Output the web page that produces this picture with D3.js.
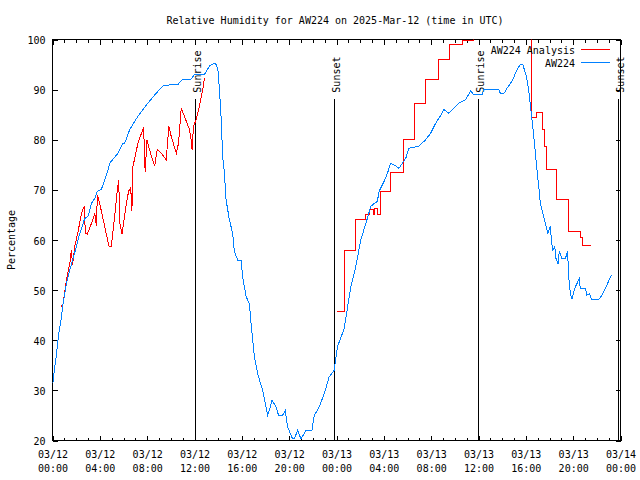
<!DOCTYPE html>
<html><head><meta charset="utf-8">
<script src="https://cdn.jsdelivr.net/npm/d3@7"></script>
<style>
html,body{margin:0;padding:0;background:#fff;}
svg{display:block;}
text{font-family:"DejaVu Sans Mono","Liberation Mono",monospace;font-size:10px;fill:#000;}
</style></head>
<body>
<svg id="chart" width="640" height="480"></svg>
<script>
// ---- data ----
const startTime = "2025-03-12T00:00:00Z";
const endTime = "2025-03-14T00:00:00Z";
const titleText = "Relative Humidity for AW224 on 2025-Mar-12 (time in UTC)";
const yLabelText = "Percentage";
const seriesNames = ["AW224 Analysis", "AW224"];
const seriesColors = ["#ff0000", "#0080ff"];
const yTicks = [20, 30, 40, 50, 60, 70, 80, 90, 100];

// AW224 observations (hours since 03/12 00:00 UTC)
const blueHours = [0.0,0.05,0.19,0.34,0.53,0.76,0.89,1.18,1.46,1.74,
 2.02,2.30,2.45,2.72,3.00,3.29,3.57,3.79,4.13,4.41,
 4.69,4.83,5.53,5.95,6.10,6.52,7.22,8.06,8.77,9.33,
 10.03,10.59,11.01,11.72,12.00,12.84,13.26,13.68,13.85,13.98,
 14.11,14.25,14.38,14.53,14.67,14.95,15.23,15.37,15.65,15.94,
 16.07,16.36,16.64,16.78,17.06,17.34,17.76,18.18,18.32,18.55,
 18.89,19.11,19.44,19.67,19.87,20.29,20.43,20.71,21.0,21.42,
 21.92,22.12,22.54,22.96,23.38,23.80,24.08,24.65,25.21,25.63,
 26.05,26.48,26.90,27.18,27.45,27.60,28.02,28.30,28.58,28.86,
 29.28,29.56,29.85,30.13,30.97,31.53,31.96,32.38,32.66,33.08,
 33.50,33.78,34.34,34.91,35.33,35.61,36.31,36.45,37.72,37.86,
 38.14,38.42,38.84,39.26,39.54,39.74,39.97,40.10,40.24,40.39,
 40.52,40.67,40.81,40.94,41.09,41.23,41.43,41.65,41.87,42.07,
 42.16,42.27,42.44,42.55,42.72,42.83,43.05,43.34,43.53,43.62,
 43.76,43.90,44.12,44.32,44.52,44.60,45.03,45.16,45.36,45.58,
 46.15,46.43,46.85,47.22];
const blueValues = [31.4,31.7,34.7,37.3,41.3,44.7,47.3,51.3,54,56.3,
 58.7,61.3,62.3,64.3,64.7,67.3,68.3,69.7,70.1,72,
 74,75.3,77.3,79.3,79.3,82,84.7,87.3,89.3,90.7,
 91,91,92.1,92.1,93,93,94.7,95.3,95,94,
 90,84.3,76.7,73.3,68,64,61.3,57.7,56,56,
 52.7,48.7,47.3,43.3,36.7,33.3,30,25,26,28,
 26.7,25,25,26,22.7,20.3,20.3,22,20.3,22,
 22,25,26.7,29.3,32.7,34,38.7,42.3,50.7,54.7,
 60,63.3,66.7,67.3,67.7,69.7,71.7,73.3,75.3,75,
 74.3,75.3,76.3,78.3,78.7,80,81.3,83.3,84.3,86,
 85.3,86,87.3,88,89.7,89,89,90,90,89.2,
 89.2,90.3,91.7,94,95,95,93.3,92,90,86.7,
 84,80.7,77.3,74,70.7,67.3,65.3,63.3,61.3,62.7,
 60,58,58.7,56.3,55.3,57.7,56.3,56.3,57.7,52.7,
 49.3,48.3,50.3,51.3,52.3,50.3,50.3,49,49.3,48.1,
 48.1,49,51,53];

// AW224 Analysis, first part (linear)
const redHours = [0.70,0.89,1.18,1.46,1.60,1.69,1.88,2.16,2.45,2.67,
 2.78,2.95,3.29,3.57,3.71,3.79,3.99,4.41,4.77,4.97,
 5.25,5.48,5.59,5.70,5.87,6.24,6.43,6.61,6.71,6.80,
 7.22,7.70,7.83,7.98,8.20,8.63,8.85,9.19,9.61,9.83,
 10.03,10.46,10.65,10.88,11.58,11.72,11.80,11.91,12.14,12.42,
 12.70,12.84];
const redValues = [46.7,47.3,52,55.3,58,55,58.7,61.7,65.3,66.7,
 61.3,61.2,63.3,65.3,62.7,69,67.3,62.7,58.8,58.8,
 64.7,70,72,63.3,61.2,67.3,69.7,70.5,65.7,74.7,
 79.3,82.5,73.5,80,78,74.7,78.1,77.3,76,82.7,
 80.7,77.3,79.3,86.3,82,80,78,82.7,84,86.7,
 90,92.3];

// AW224 Analysis, second part (stepped)
const redStepHours = [24.0,24.66,25.57,26.47,26.76,27.1,27.25,27.45,27.68,28.58,
 29.7,30.63,31.53,32.6,33.56,34.62,35.6,40.5,40.94,41.42,
 41.55,41.78,42.63,43.62,44.6,44.8,45.53];
const redStepValues = [45.7,58,64,65.1,66,65.1,66.3,65.1,69.7,73.5,
 80,87.2,92,96,99,99.9,101,84.5,85.5,82,
 78.7,74,68,61.7,60.5,59,59];

// sun events
const sunHours = [12.02, 23.76, 35.99, 47.79];
const sunLabels = ["Sunrise", "Sunset", "Sunrise", "Sunset"];
const sunLineTop = 88.2;

// ---- drawing ----
const svg = d3.select("#chart");
const L = 52.5, R = 620.5, T = 39.5, B = 440.5;
const t0 = new Date(startTime);
const hd = h => new Date(t0.getTime() + h * 3600000);

const x = d3.scaleUtc().domain([new Date(startTime), new Date(endTime)]).range([L, R]);
const y = d3.scaleLinear().domain([20, 100]).range([B, T]);

svg.append("defs").append("clipPath").attr("id", "clip")
  .append("rect").attr("x", L).attr("y", T).attr("width", R - L).attr("height", B - T);

const majorTicks = d3.utcHour.every(4).range(new Date(startTime), new Date(new Date(endTime).getTime() + 1));
const minorTicks = d3.utcHour.every(1).range(new Date(startTime), new Date(new Date(endTime).getTime() + 1));
const fDate = d3.utcFormat("%m/%d"), fTime = d3.utcFormat("%H:%M");

function styleAxis(g) {
  g.select(".domain").remove();
  g.selectAll("line").attr("stroke", "#000").attr("shape-rendering", "crispEdges");
  g.selectAll("text").attr("font-family", null).attr("font-size", null);
}

// bottom minor + major
svg.append("g").attr("transform", `translate(0,${B})`)
  .call(d3.axisBottom(x).tickValues(minorTicks).tickSize(-3).tickSizeOuter(0).tickFormat(""))
  .call(styleAxis);
const bx = svg.append("g").attr("transform", `translate(0,${B})`)
  .call(d3.axisBottom(x).tickValues(majorTicks).tickSize(-5).tickSizeOuter(0).tickPadding(0).tickFormat(""))
  .call(styleAxis);
bx.selectAll(".tick").append("text")
  .attr("text-anchor", "middle")
  .each(function(d) {
    const t = d3.select(this);
    t.append("tspan").attr("x", 0).attr("y", 17).text(fDate(d));
    t.append("tspan").attr("x", 0).attr("y", 31).text(fTime(d));
  });
// top mirror
svg.append("g").attr("transform", `translate(0,${T})`)
  .call(d3.axisTop(x).tickValues(minorTicks).tickSize(-3).tickSizeOuter(0).tickFormat(""))
  .call(styleAxis);
svg.append("g").attr("transform", `translate(0,${T})`)
  .call(d3.axisTop(x).tickValues(majorTicks).tickSize(-5).tickSizeOuter(0).tickFormat(""))
  .call(styleAxis);
// left
const ly = svg.append("g").attr("transform", `translate(${L},0)`)
  .call(d3.axisLeft(y).tickValues(yTicks).tickSize(-5).tickSizeOuter(0).tickPadding(7).tickFormat(d3.format("d")))
  .call(styleAxis);
ly.selectAll("text").attr("dy", null).attr("y", 4);
// right
svg.append("g").attr("transform", `translate(${R},0)`)
  .call(d3.axisRight(y).tickValues(yTicks).tickSize(-5).tickSizeOuter(0).tickFormat(""))
  .call(styleAxis);

// border
svg.append("rect").attr("x", L).attr("y", T).attr("width", R - L).attr("height", B - T)
  .attr("fill", "none").attr("stroke", "#000").attr("shape-rendering", "crispEdges");

// sun lines
const sun = svg.append("g");
sunHours.forEach((h, i) => {
  const xp = Math.round(x(hd(h))) + 0.5;
  sun.append("line").attr("x1", xp).attr("x2", xp).attr("y1", y(sunLineTop)).attr("y2", B)
    .attr("stroke", "#000").attr("shape-rendering", "crispEdges");
  sun.append("text").attr("transform", `translate(${xp + 5.5},${y(sunLineTop) - 6}) rotate(-90)`)
    .attr("text-anchor", "start").text(sunLabels[i]);
});

// data lines
const line = d3.line().x(d => x(hd(d[0]))).y(d => y(d[1]));
const dataG = svg.append("g").attr("clip-path", "url(#clip)");
dataG.append("path").datum(redHours.map((h, i) => [h, redValues[i]]))
  .attr("d", line).attr("fill", "none").attr("stroke", seriesColors[0]).attr("stroke-width", 1)
  .attr("shape-rendering", "crispEdges");
dataG.append("path").datum(redStepHours.map((h, i) => [h, redStepValues[i]]))
  .attr("d", line.curve(d3.curveStepAfter)).attr("fill", "none").attr("stroke", seriesColors[0]).attr("stroke-width", 1)
  .attr("shape-rendering", "crispEdges");
line.curve(d3.curveLinear);
dataG.append("path").datum(blueHours.map((h, i) => [h, blueValues[i]]))
  .attr("d", line).attr("fill", "none").attr("stroke", seriesColors[1]).attr("stroke-width", 1)
  .attr("shape-rendering", "crispEdges");

// title & axis label
svg.append("text").attr("x", 335).attr("y", 24).attr("text-anchor", "middle").text(titleText);
svg.append("text").attr("transform", "translate(15,240) rotate(-90)").attr("text-anchor", "middle").text(yLabelText);

// legend
const lg = svg.append("g");
seriesNames.forEach((n, i) => {
  const yy = 49.5 + i * 13;
  lg.append("text").attr("x", 575).attr("y", yy + 4.5).attr("text-anchor", "end").text(n);
  lg.append("line").attr("x1", 581).attr("x2", 610).attr("y1", yy).attr("y2", yy)
    .attr("stroke", seriesColors[i]).attr("shape-rendering", "crispEdges");
});
</script>
</body></html>
